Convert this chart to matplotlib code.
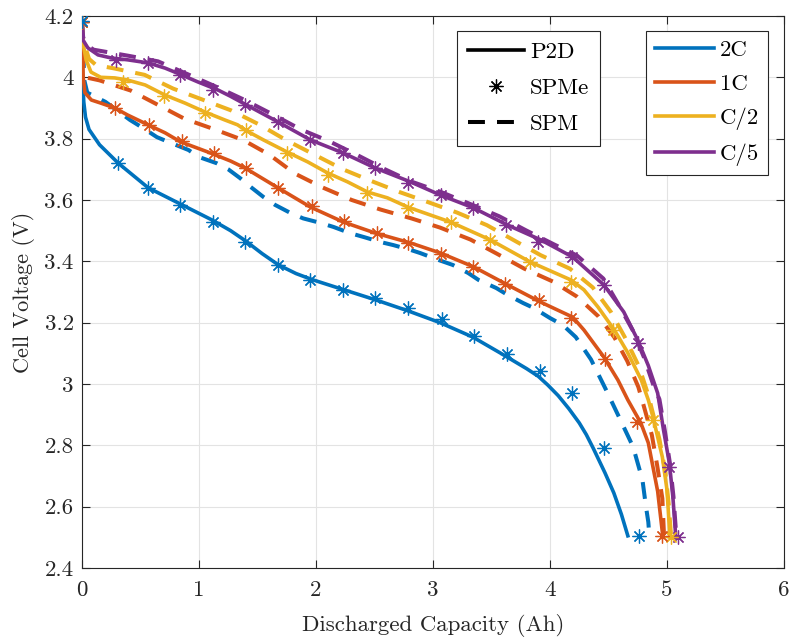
import matplotlib
matplotlib.use("Agg")
import matplotlib.pyplot as plt
from matplotlib.lines import Line2D
from matplotlib.ticker import FuncFormatter

plt.rcParams['font.family'] = ['cmr10', 'DejaVu Serif']
plt.rcParams['axes.formatter.use_mathtext'] = True
plt.rcParams['mathtext.fontset'] = 'cm'

# ---- discharge curves: capacity (Ah) / voltage (V) ----
# 2C
p2d_2c_q = [0, 0.005, 0.015, 0.03, 0.06, 0.15, 0.31, 0.565, 0.84, 1.11, 1.27, 1.40, 1.54, 1.68,
            1.83, 1.97, 2.24, 2.52, 2.79, 3.06, 3.34, 3.58, 3.80, 3.90, 3.98, 4.07, 4.16, 4.25,
            4.31, 4.37, 4.47, 4.545, 4.61, 4.665]
p2d_2c_v = [4.18, 4.0, 3.92, 3.87, 3.83, 3.78, 3.72, 3.64, 3.587, 3.535, 3.50, 3.466, 3.425, 3.388,
            3.36, 3.34, 3.307, 3.273, 3.238, 3.20, 3.153, 3.10, 3.05, 3.025, 2.997, 2.962, 2.92,
            2.873, 2.835, 2.79, 2.71, 2.645, 2.575, 2.505]
spme_2c_q = [0, 0.308, 0.565, 0.839, 1.121, 1.395, 1.678, 1.952, 2.234, 2.508, 2.790, 3.081,
             3.347, 3.629, 3.912, 4.185, 4.459, 4.759]
spme_2c_v = [4.185, 3.721, 3.639, 3.584, 3.528, 3.463, 3.388, 3.339, 3.307, 3.280, 3.248, 3.212,
             3.157, 3.098, 3.042, 2.971, 2.791, 2.504]
spm_2c_q = [0, 0.02, 0.045, 0.2, 0.41, 0.52, 0.64, 0.74, 0.91, 1.0, 1.15, 1.25, 1.352, 1.44, 1.55,
            1.65, 1.78, 1.89, 2.04, 2.15, 2.29, 2.41, 2.55, 2.66, 2.81, 2.89, 3.05, 3.17, 3.30,
            3.39, 3.54, 3.64, 3.77, 3.86, 4.0, 4.11, 4.22, 4.35, 4.48, 4.59, 4.71, 4.79, 4.82,
            4.84, 4.85]
spm_2c_v = [4.18, 3.99, 3.95, 3.92, 3.861, 3.835, 3.805, 3.789, 3.763, 3.74, 3.72, 3.70, 3.671,
            3.643, 3.61, 3.584, 3.558, 3.54, 3.525, 3.512, 3.492, 3.479, 3.463, 3.453, 3.437,
            3.427, 3.404, 3.388, 3.362, 3.339, 3.313, 3.29, 3.264, 3.248, 3.215, 3.192, 3.153,
            3.08, 2.98, 2.892, 2.795, 2.687, 2.60, 2.55, 2.5]

# 1C
p2d_1c_q = [0, 0.01, 0.025, 0.08, 0.16, 0.28, 0.39, 0.565, 0.71, 0.84, 1.1, 1.27, 1.395, 1.678,
            1.952, 2.234, 2.508, 2.807, 3.064, 3.347, 3.638, 3.92, 4.194, 4.29, 4.46, 4.58,
            4.665, 4.776, 4.84, 4.92, 4.965]
p2d_1c_v = [4.18, 4.0, 3.95, 3.926, 3.916, 3.90, 3.877, 3.845, 3.819, 3.79, 3.753, 3.727, 3.704,
            3.639, 3.577, 3.528, 3.492, 3.46, 3.427, 3.382, 3.323, 3.267, 3.218, 3.176, 3.088,
            3.013, 2.948, 2.873, 2.808, 2.65, 2.5]
spme_1c_q = [0, 0.282, 0.573, 0.856, 1.13, 1.404, 1.678, 1.969, 2.243, 2.517, 2.79, 3.064, 3.338,
             3.612, 3.903, 4.177, 4.468, 4.745, 4.956]
spme_1c_v = [4.18, 3.90, 3.845, 3.792, 3.753, 3.704, 3.639, 3.58, 3.531, 3.492, 3.46, 3.424,
             3.382, 3.326, 3.274, 3.215, 3.082, 2.876, 2.504]
spm_1c_q = [0, 0.01, 0.03, 0.15, 0.415, 0.635, 0.875, 1.135, 1.38, 1.60, 1.82, 2.055, 2.305,
            2.55, 2.815, 3.06, 3.32, 3.545, 3.78, 4.025, 4.23, 4.415, 4.55, 4.66, 4.755, 4.80,
            4.87, 4.915, 4.96, 4.975]
spm_1c_v = [4.18, 4.03, 4.0, 3.99, 3.957, 3.913, 3.865, 3.83, 3.795, 3.748, 3.686, 3.641, 3.60,
            3.569, 3.54, 3.51, 3.471, 3.425, 3.376, 3.334, 3.285, 3.22, 3.152, 3.075, 2.99,
            2.93, 2.834, 2.736, 2.627, 2.5]

# C/2
p2d_c2_q = [0, 0.008, 0.035, 0.077, 0.16, 0.28, 0.39, 0.54, 0.71, 0.88, 1.05, 1.22, 1.33,
            1.395, 1.55, 1.75, 1.93, 2.1, 2.27, 2.44, 2.61, 2.79, 3.15, 3.49, 3.83, 4.18, 4.29,
            4.41, 4.55, 4.66, 4.78, 4.84, 4.88, 4.96, 5.0, 5.025]
p2d_c2_v = [4.18, 4.112, 4.057, 4.017, 4.0, 3.998, 3.991, 3.975, 3.942, 3.916, 3.887, 3.861,
            3.845, 3.828, 3.796, 3.757, 3.724, 3.688, 3.659, 3.626, 3.607, 3.576, 3.528, 3.47,
            3.398, 3.339, 3.307, 3.251, 3.176, 3.105, 3.013, 2.948, 2.892, 2.762, 2.654, 2.5]
spme_c2_q = [0, 0.35, 0.70, 1.05, 1.40, 1.75, 2.10, 2.44, 2.79, 3.15, 3.49, 3.83, 4.18, 4.54,
             4.88, 5.03]
spme_c2_v = [4.18, 3.985, 3.94, 3.884, 3.828, 3.753, 3.682, 3.623, 3.575, 3.528, 3.47, 3.398,
             3.333, 3.176, 2.883, 2.50]
spm_c2_q = [0, 0.01, 0.06, 0.12, 0.275, 0.535, 0.78, 1.025, 1.275, 1.515, 1.745, 1.985, 2.23,
            2.465, 2.72, 2.965, 3.205, 3.46, 3.685, 3.92, 4.17, 4.365, 4.52, 4.64, 4.76, 4.84,
            4.935, 4.985, 5.015, 5.035]
spm_c2_v = [4.18, 4.12, 4.06, 4.04, 4.029, 4.008, 3.963, 3.928, 3.892, 3.846, 3.795, 3.748,
            3.70, 3.663, 3.625, 3.592, 3.559, 3.518, 3.47, 3.42, 3.376, 3.315, 3.235, 3.152,
            3.057, 2.964, 2.82, 2.715, 2.606, 2.5]

# C/5
p2d_c5_q = [0, 0.008, 0.05, 0.137, 0.25, 0.39, 0.565, 0.71, 0.85, 0.99, 1.16, 1.27, 1.395, 1.678,
            1.952, 2.234, 2.508, 2.807, 3.064, 3.347, 3.638, 3.92, 4.194, 4.46, 4.63, 4.75, 4.84,
            4.92, 4.97, 5.02, 5.05, 5.075]
p2d_c5_v = [4.18, 4.122, 4.096, 4.073, 4.063, 4.057, 4.047, 4.03, 4.008, 3.985, 3.959, 3.938,
            3.912, 3.854, 3.796, 3.753, 3.704, 3.659, 3.616, 3.574, 3.518, 3.47, 3.414, 3.323,
            3.235, 3.143, 3.06, 2.97, 2.85, 2.742, 2.632, 2.5]
spme_c5_q = [0, 0.29, 0.565, 0.84, 1.12, 1.395, 1.678, 1.952, 2.234, 2.508, 2.79, 3.064, 3.34,
             3.62, 3.9, 4.19, 4.46, 4.75, 5.02, 5.09]
spme_c5_v = [4.18, 4.057, 4.047, 4.008, 3.959, 3.91, 3.854, 3.796, 3.753, 3.704, 3.655, 3.616,
             3.574, 3.518, 3.463, 3.414, 3.323, 3.134, 2.73, 2.5]
spm_c5_q = [0, 0.01, 0.04, 0.1, 0.40, 0.65, 0.91, 1.16, 1.385, 1.63, 1.87, 2.115, 2.35, 2.59,
            2.815, 3.075, 3.33, 3.565, 3.80, 4.035, 4.23, 4.455, 4.58, 4.71, 4.805, 4.88, 4.935,
            4.98, 5.025, 5.055, 5.08]
spm_c5_v = [4.18, 4.13, 4.105, 4.09, 4.07, 4.052, 4.009, 3.967, 3.927, 3.879, 3.83, 3.791, 3.747,
            3.70, 3.66, 3.625, 3.585, 3.547, 3.50, 3.455, 3.419, 3.344, 3.263, 3.173, 3.085,
            3.0, 2.95, 2.85, 2.741, 2.633, 2.5]

rate_labels = ['2C', '1C', 'C/2', 'C/5']
model_labels = ['P2D', 'SPMe', 'SPM']
colors = ['#0072BD', '#D95319', '#EDB120', '#7E2F8E']

curves = [
    (p2d_2c_q, p2d_2c_v, spme_2c_q, spme_2c_v, spm_2c_q, spm_2c_v),
    (p2d_1c_q, p2d_1c_v, spme_1c_q, spme_1c_v, spm_1c_q, spm_1c_v),
    (p2d_c2_q, p2d_c2_v, spme_c2_q, spme_c2_v, spm_c2_q, spm_c2_v),
    (p2d_c5_q, p2d_c5_v, spme_c5_q, spme_c5_v, spm_c5_q, spm_c5_v),
]

asterisk = (8, 2, 0)
lw_solid = 2.6
lw_dash = 2.9
dash_pat = (4.2, 3.0)
fs = 16.5
ink = '#262626'

fig = plt.figure(figsize=(7.93, 6.44), dpi=100)
ax = fig.add_axes([0.1034, 0.118, 0.8853, 0.8572])

for i, ((pq, pv, sq, sv, mq, mv), c) in enumerate(zip(curves, colors)):
    ax.plot(pq, pv, color=c, lw=lw_solid, solid_joinstyle='round', zorder=3)
    ax.plot(mq, mv, color=c, lw=lw_dash, linestyle=(0, dash_pat), zorder=3)
    # faster rates are drawn on top for the shared starting point
    ax.plot(sq, sv, linestyle='none', marker=asterisk, ms=10, mew=0.9,
            color=c, zorder=5 - 0.1 * i)

ax.set_xlim(0, 6)
ax.set_ylim(2.4, 4.2)
ax.set_xticks(range(0, 7))
ax.set_yticks([2.4 + 0.2 * i for i in range(10)])
ax.yaxis.set_major_formatter(FuncFormatter(lambda v, p: f'{v:.1f}'.rstrip('0').rstrip('.')))
ax.xaxis.set_major_formatter(FuncFormatter(lambda v, p: f'{v:g}'))

ax.grid(True, color='#e3e3e3', lw=0.8, zorder=0)
ax.set_axisbelow(True)
for s in ax.spines.values():
    s.set_color(ink)
    s.set_linewidth(0.8)
ax.tick_params(direction='in', top=True, right=True, length=6, width=0.8,
               colors=ink, labelsize=fs, pad=6)
ax.tick_params(axis='x', pad=9)
for lab in ax.get_xticklabels() + ax.get_yticklabels():
    lab.set_color(ink)

ax.set_xlabel('Discharged Capacity (Ah)', fontsize=fs, color=ink, labelpad=10)
ax.set_ylabel('Cell Voltage (V)', fontsize=16, color=ink, labelpad=7)

common = dict(loc='upper left', fontsize=fs, frameon=True, fancybox=False,
              edgecolor=ink, framealpha=1, handletextpad=0.25, borderaxespad=0)

# model legend
model_handles = [
    Line2D([], [], color='k', lw=lw_solid),
    Line2D([], [], color='k', linestyle='none', marker=asterisk, ms=10, mew=0.9),
    Line2D([], [], color='k', lw=lw_dash, linestyle=(0, dash_pat)),
]
leg1 = ax.legend(model_handles, model_labels, bbox_to_anchor=(0.5338, 0.9728),
                 handlelength=2.45, labelspacing=0.7, borderpad=0.49, **common)
leg1.get_frame().set_linewidth(0.8)
ax.add_artist(leg1)

# C-rate legend
rate_handles = [Line2D([], [], color=c, lw=lw_solid) for c in colors]
leg2 = ax.legend(rate_handles, rate_labels, bbox_to_anchor=(0.803, 0.9728),
                 handlelength=2.6, labelspacing=0.59, borderpad=0.39, **common)
leg2.get_frame().set_linewidth(0.8)

fig.savefig('out.png', dpi=100)
